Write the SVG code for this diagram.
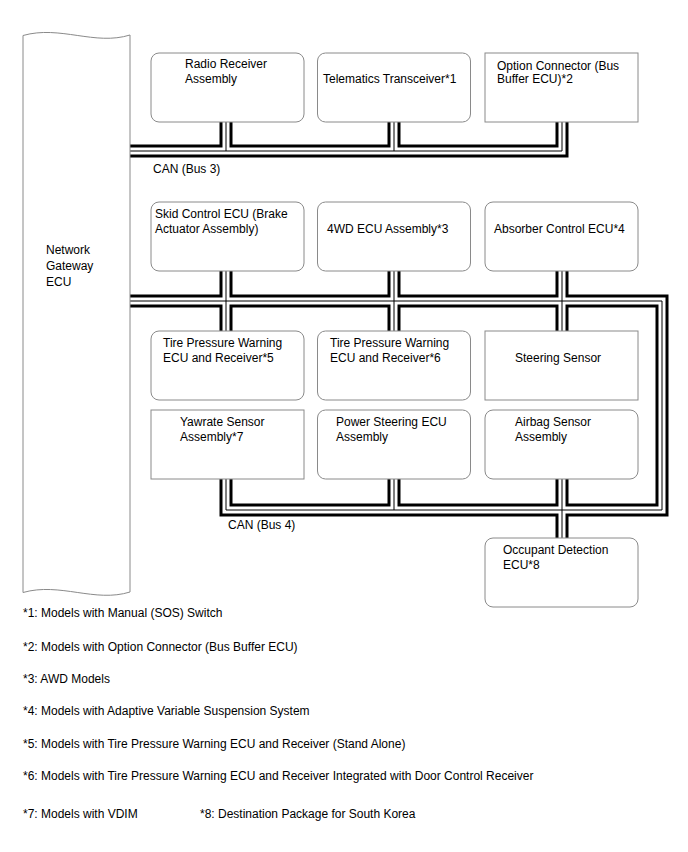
<svg xmlns="http://www.w3.org/2000/svg" xmlns:xlink="http://www.w3.org/1999/xlink" width="688" height="852" viewBox="0 0 688 852">
<style>
.box{fill:#fff;stroke:#8a8a8a;stroke-width:1}
.t{font-family:"Liberation Sans",Arial,sans-serif;font-size:12px;fill:#000}
.outer{fill:none;stroke:#000;stroke-width:13;stroke-linejoin:miter;stroke-linecap:butt}
.mid{fill:none;stroke:#fff;stroke-width:7;stroke-linejoin:miter;stroke-linecap:butt}
.core{fill:none;stroke:#000;stroke-width:1;stroke-linejoin:miter;stroke-linecap:butt}
</style>
<defs>
<path id="bus3" d="M130,151 H562 V121 M226,121 V151 M394,121 V151"/>
<path id="bus4" d="M130,301 H662 V510 H226 V478 M226,270 V332 M394,270 V332 M562,270 V332 M394,478 V510 M562,478 V539"/>
</defs>
<rect width="688" height="852" fill="#fff"/>
<g id="connectors">
<use xlink:href="#bus3" class="outer"/><use xlink:href="#bus4" class="outer"/>
<use xlink:href="#bus3" class="mid"/><use xlink:href="#bus4" class="mid"/>
<use xlink:href="#bus3" class="core"/><use xlink:href="#bus4" class="core"/>
</g>
<g id="gateway">
<path class="box" d="M23,35.5 C60,25 95,46 130,35 L130,592 C95,603 60,582 23,592.5 Z"/>
<text class="t" x="46" y="254">Network</text>
<text class="t" x="46" y="270">Gateway</text>
<text class="t" x="46" y="286">ECU</text>
</g>
<g id="radio"><rect class="box" x="151" y="53" width="153" height="69" rx="8"/>
<text class="t" x="185" y="68">Radio Receiver</text><text class="t" x="185" y="83">Assembly</text></g>
<g id="telematics"><rect class="box" x="317.5" y="53" width="153" height="69" rx="8"/>
<text class="t" x="323" y="83">Telematics Transceiver*1</text></g>
<g id="option"><rect class="box" x="485" y="53" width="153" height="69"/>
<text class="t" x="497" y="70">Option Connector (Bus</text><text class="t" x="497" y="83">Buffer ECU)*2</text></g>
<text class="t" x="153" y="173">CAN (Bus 3)</text>
<g id="skid"><rect class="box" x="151" y="202" width="153" height="69" rx="8"/>
<text class="t" x="155" y="218">Skid Control ECU (Brake</text><text class="t" x="155" y="233">Actuator Assembly)</text></g>
<g id="fwd"><rect class="box" x="317.5" y="202" width="153" height="69" rx="8"/>
<text class="t" x="327" y="233">4WD ECU Assembly*3</text></g>
<g id="absorber"><rect class="box" x="485" y="202" width="153" height="69" rx="8"/>
<text class="t" x="494" y="233">Absorber Control ECU*4</text></g>
<g id="tpw5"><rect class="box" x="151" y="331" width="153" height="69" rx="8"/>
<text class="t" x="163" y="347">Tire Pressure Warning</text><text class="t" x="163" y="362">ECU and Receiver*5</text></g>
<g id="tpw6"><rect class="box" x="317.5" y="331" width="153" height="69" rx="8"/>
<text class="t" x="330" y="347">Tire Pressure Warning</text><text class="t" x="330" y="362">ECU and Receiver*6</text></g>
<g id="steering"><rect class="box" x="485" y="331" width="153" height="69"/>
<text class="t" x="515" y="362">Steering Sensor</text></g>
<g id="yawrate"><rect class="box" x="151" y="410" width="153" height="69"/>
<text class="t" x="180" y="426">Yawrate Sensor</text><text class="t" x="180" y="441">Assembly*7</text></g>
<g id="powersteer"><rect class="box" x="317.5" y="410" width="153" height="69" rx="8"/>
<text class="t" x="336" y="426">Power Steering ECU</text><text class="t" x="336" y="441">Assembly</text></g>
<g id="airbag"><rect class="box" x="485" y="410" width="153" height="69" rx="8"/>
<text class="t" x="515" y="426">Airbag Sensor</text><text class="t" x="515" y="441">Assembly</text></g>
<text class="t" x="228" y="529">CAN (Bus 4)</text>
<g id="occupant"><rect class="box" x="485" y="538" width="153" height="69" rx="8"/>
<text class="t" x="503" y="554">Occupant Detection</text><text class="t" x="503" y="569">ECU*8</text></g>
<g id="notes">
<text class="t" x="23" y="617">*1: Models with Manual (SOS) Switch</text>
<text class="t" x="23" y="651">*2: Models with Option Connector (Bus Buffer ECU)</text>
<text class="t" x="23" y="683">*3: AWD Models</text>
<text class="t" x="23" y="715">*4: Models with Adaptive Variable Suspension System</text>
<text class="t" x="23" y="748">*5: Models with Tire Pressure Warning ECU and Receiver (Stand Alone)</text>
<text class="t" x="23" y="780">*6: Models with Tire Pressure Warning ECU and Receiver Integrated with Door Control Receiver</text>
<text class="t" x="23" y="818">*7: Models with VDIM</text>
<text class="t" x="200" y="818">*8: Destination Package for South Korea</text>
</g>
</svg>
